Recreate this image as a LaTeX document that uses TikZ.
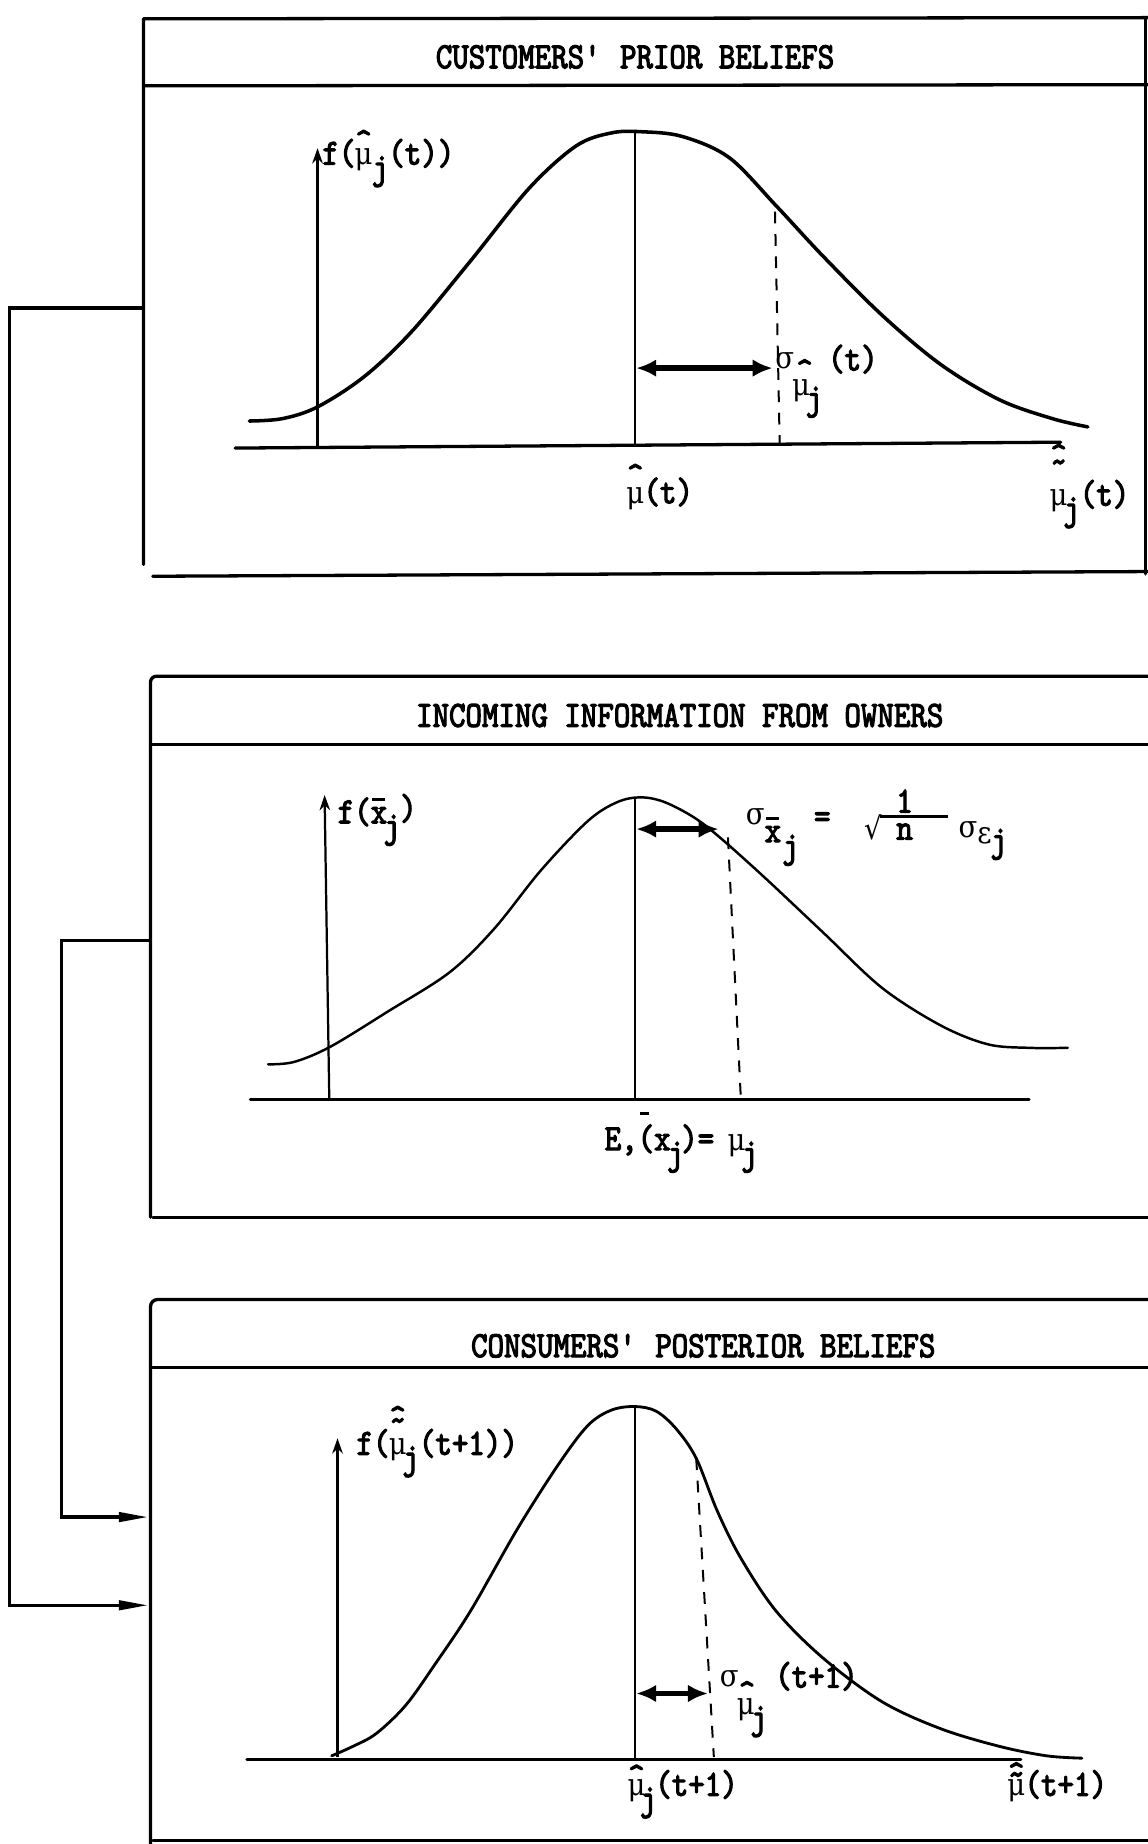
\documentclass[tikz,border=0pt]{standalone}
\usepackage{fontspec}
\newfontfamily\tw{lmmono10-regular}[Extension=.otf, FakeStretch=0.85, FakeBold=3]
\newfontfamily\gk{DejaVu Serif}[FakeStretch=0.9]
\usetikzlibrary{arrows.meta}
\newcommand\gr[1]{\makebox[14pt]{\gk\fontsize{26}{30}\selectfont #1}}
\newcommand\gmu{\gr{μ}}
\newcommand\gsg{\gr{σ}}
\newcommand\sj{\raisebox{-12pt}{j}}
% #1 = height of the top of the mark above the baseline
\newcommand\crt[1]{\raisebox{\dimexpr#1-\fontcharht\font`\^\relax}{\textasciicircum}}
\newcommand\hatc[2]{\rlap{\crt{#1}}#2}
\newcommand\tild[2]{\rlap{\raisebox{\dimexpr#1-\fontcharht\font`\~\relax}{\textasciitilde}}#2}
\newcommand\barx[1]{\rlap{\hspace{1.5pt}\raisebox{#1}{\rule{11pt}{2.4pt}}}x}
\tikzset{
  box/.style={line width=2.8pt, line cap=round, line join=round},
  curve/.style={line width=2.4pt, line cap=round},
  xaxis/.style={line width=2.8pt, line cap=round},
  yaxis/.style={line width=1.9pt, -{Stealth[length=13pt,width=9pt]}},
  mean/.style={line width=2pt},
  dline/.style={line width=1.7pt, dash pattern=on 10pt off 9pt},
  sdarrow/.style={line width=4.5pt, {Latex[length=17pt,width=15pt]}-{Latex[length=17pt,width=15pt]}},
  feed/.style={line width=2.8pt, line join=miter, -{Triangle[length=25pt,width=8pt]}},
  lbl/.style={font=\tw\fontsize{31.4}{36}\selectfont, inner sep=0pt, anchor=base west},
  ttl/.style={font=\tw\fontsize{31.4}{36}\selectfont, inner sep=0pt, anchor=base}
}
\begin{document}
\begin{tikzpicture}[x=1pt,y=-1pt]
\useasboundingbox (0,0) rectangle (976,1568);
% ---------- box 1 ----------
\draw[box] (122,480) -- (122,16) -- (976,15);
\draw[box] (122,73) -- (976,72);
\draw[box] (974,15) -- (974,488);
\draw[box] (130,490) -- (976,486);
\node[ttl] (t1) at (540,58) {CUSTOMERS\textquotesingle{} PRIOR BELIEFS};
\coordinate (b1w) at (122,262);
\draw[xaxis] (200,381) -- (902,376);
\draw[yaxis] (270,381) -- (270,126);
\draw[curve, line width=3pt] plot[smooth, tension=0.55] coordinates {(212,358) (240,356) (270,346) (310,320) (350,282) (400,222) (450,160) (490,124) (520,113) (545,112) (580,116) (620,134) (660,175) (700,218) (750,268) (800,310) (850,340) (895,356) (925,363)};
\draw[mean] (540,112) -- (540,380);
\draw[dline] (659,180) -- (663,378);
\draw[sdarrow] (541,313) -- (657,313);
\node[lbl] (l1y) at (274,140) {f(\hatc{29pt}{\gmu}\sj(t))};
\node[lbl] (l1s) at (660,313) {\gsg};
\node[lbl] (l1c) at (677,313) {\crt{7pt}};
\node[lbl] (l1t) at (704,315) {(t)};
\node[lbl] (l1m) at (674,336) {\gmu\kern-3pt\sj};
\node[lbl] (l1x) at (533,428) {\hatc{33pt}{\gmu}(t)};
\node[lbl] (l1r) at (893,430) {\hatc{52pt}{\tild{39pt}{\gmu}}\kern-3pt\sj(t)};
% ---------- box 2 ----------
\draw[box, rounded corners=5pt] (128,1035) -- (128,575) -- (976,575);
\draw[box] (128,633) -- (976,633);
\draw[box] (130,1035) -- (976,1035);
\node[ttl] (t2) at (578,618) {INCOMING INFORMATION FROM OWNERS};
\coordinate (b2w) at (128,800);
\draw[xaxis] (213,935) -- (875,935);
\draw[yaxis] (280,935) -- (276,676);
\draw[curve, line width=2.1pt] plot[smooth, tension=0.55] coordinates {(228,905) (250,903) (281,890) (330,860) (382,827) (420,790) (460,740) (500,698) (525,682) (545,678) (565,682) (590,695) (612,712) (650,746) (700,793) (750,840) (800,872) (840,888) (875,891) (908,891)};
\draw[mean] (540,678) -- (540,935);
\draw[dline] (619,712) -- (630,935);
\draw[sdarrow] (541,705) -- (611,705);
\node[lbl] (l2y) at (287,700) {f(\barx{19pt}\kern-3pt\sj\raisebox{3pt}{)}};
\node[lbl] (l2s) at (635,701) {\gsg};
\node[lbl] (l2x) at (650,716) {\barx{19pt}};
\node[lbl] (l2j) at (665,729) {j};
\node[lbl] (l2q) at (692,704) {=};
\node[lbl] (l2r) at (735,714) {\gr{√}};
\draw[line width=2.6pt] (748,694) -- (806,694);
\node[lbl] (l2o) at (762,691) {1};
\node[lbl] (l2n) at (762,714) {n};
\node[lbl] (l2e) at (816,712) {\gsg\raisebox{-5pt}{\gr{ε}}\kern-2pt\sj};
\node[lbl] (l2m) at (514,978) {E,\rlap{\hspace{2pt}\raisebox{30pt}{\rule{8pt}{2.4pt}}}(x\kern-3pt\sj\kern-2pt)=\kern-2pt\ \gmu\kern-3pt\sj};
% ---------- box 3 ----------
\draw[box, rounded corners=6pt] (128,1568) -- (128,1105) -- (976,1105);
\draw[box] (128,1163) -- (976,1163);
\draw[box] (130,1565) -- (976,1565);
\node[ttl] (t3) at (598,1154) {CONSUMERS\textquotesingle{} POSTERIOR BELIEFS};
\coordinate (b3a) at (126,1290);
\coordinate (b3b) at (126,1365);
\draw[xaxis] (210,1496) -- (868,1496);
\draw[yaxis] (287,1494) -- (287,1223);
\draw[curve] plot[smooth, tension=0.55] coordinates {(282,1493) (300,1485) (320,1474) (345,1450) (370,1415) (400,1370) (440,1300) (475,1245) (500,1212) (520,1199) (540,1196) (558,1200) (575,1215) (592,1240) (610,1285) (630,1325) (660,1370) (700,1410) (750,1447) (800,1470) (850,1485) (890,1493) (920,1495)};
\draw[mean] (540,1196) -- (540,1496);
\draw[dline] (592,1240) -- (607,1494);
\draw[sdarrow] (541,1440) -- (602,1440);
\node[lbl] (l3y) at (303,1237) {f(\hatc{41pt}{\tild{31pt}{\gmu}}\kern-3pt\sj(t+1))};
\node[lbl] (l3s) at (613,1434) {\gsg};
\node[lbl] (l3c) at (628,1434) {\crt{4pt}};
\node[lbl] (l3t) at (659,1435) {(t+1)};
\node[lbl] (l3m) at (627,1458) {\gmu\kern-3pt\sj};
\node[lbl] (l3x) at (534,1527) {\hatc{26pt}{\gmu}\kern-4pt\sj\kern-1pt(t+1)};
\node[lbl] (l3r) at (857,1527) {\hatc{28pt}{\tild{20pt}{\gmu}}(t+1)};
% ---------- connectors ----------
\draw[feed] (b1w) -- (8,262) |- (b3b);
\draw[feed] (b2w) -- (52,800) |- (b3a);
\end{tikzpicture}
\end{document}
